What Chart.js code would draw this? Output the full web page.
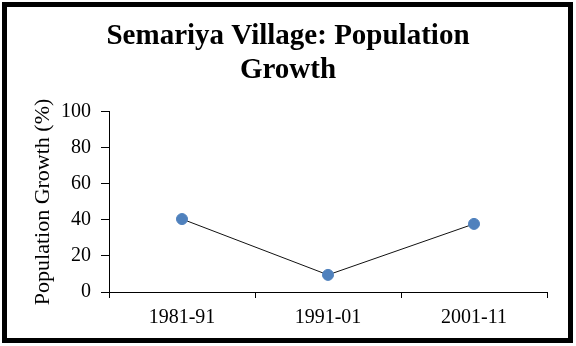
<!DOCTYPE html>
<html lang="en">
<head>
    <meta charset="UTF-8">
    <title>Semariya Village: Population Growth</title>
    <script src="https://cdn.jsdelivr.net/npm/chart.js@4"></script>
    <style>
        html, body { margin: 0; padding: 0; background: #fff; }
        .wrap { position: relative; width: 576px; height: 346px; }
        .frame {
            position: absolute; left: 2px; top: 2px; width: 571px; height: 341px;
            border: 5px solid #000; box-sizing: border-box; pointer-events: none;
        }
    </style>
</head>
<body>
    <div class="wrap">
        <canvas id="growthChart" width="576" height="346"></canvas>
        <div class="frame"></div>
    </div>

    <script>
      // decade periods and growth in percent
      const periods = ['1981-91', '1991-01', '2001-11'];
      const growth = [40.5, 9.5, 37.8];
      const yMin = 0, yMax = 100, yStep = 20;

      const serif = '"Liberation Serif", "Times New Roman", serif';

      // center the title over the whole canvas, not just the padded area
      const fullWidthTitle = {
        id: 'fullWidthTitle',
        afterLayout(chart) {
          const t = chart.titleBlock;
          if (!t) return;
          t.left = 0;
          t.right = chart.width;
          t.width = chart.width;
        }
      };

      const ctx = document.getElementById('growthChart').getContext('2d');
      new Chart(ctx, {
        type: 'line',
        data: {
          labels: periods,
          datasets: [{
            data: growth,
            borderColor: '#111',
            borderWidth: 1,
            pointBackgroundColor: '#4F81BD',
            pointBorderColor: '#4F81BD',
            pointRadius: 5.5,
            tension: 0
          }]
        },
        options: {
          responsive: false,
          animation: false,
          layout: { padding: { left: 0, right: 29, top: 0, bottom: 0 } },
          plugins: {
            legend: { display: false },
            tooltip: { enabled: false },
            title: {
              display: true,
              text: ['Semariya Village: Population', 'Growth'],
              color: '#000',
              font: { family: serif, size: 29, weight: 'bold', lineHeight: 1.17 },
              padding: { top: 20, bottom: 24 }
            }
          },
          scales: {
            x: {
              offset: true,
              grid: { offset: true, drawOnChartArea: false, drawTicks: true, tickLength: 6, color: '#000' },
              border: { color: '#000', width: 1 },
              ticks: { color: '#000', font: { family: serif, size: 20 }, padding: 8, maxRotation: 0 },
              afterFit: scale => { scale.height = 54; }
            },
            y: {
              min: yMin,
              max: yMax,
              grid: { drawOnChartArea: false, drawTicks: true, tickLength: 8, color: '#000' },
              border: { color: '#000', width: 1 },
              ticks: { stepSize: yStep, color: '#000', font: { family: serif, size: 20 }, padding: 10 },
              title: {
                display: true,
                text: 'Population Growth (%)',
                color: '#000',
                font: { family: serif, size: 22 },
                padding: { top: 30, bottom: 0 }
              },
              afterFit: scale => { scale.width = 109; }
            }
          }
        },
        plugins: [fullWidthTitle]
      });
    </script>
</body>
</html>
